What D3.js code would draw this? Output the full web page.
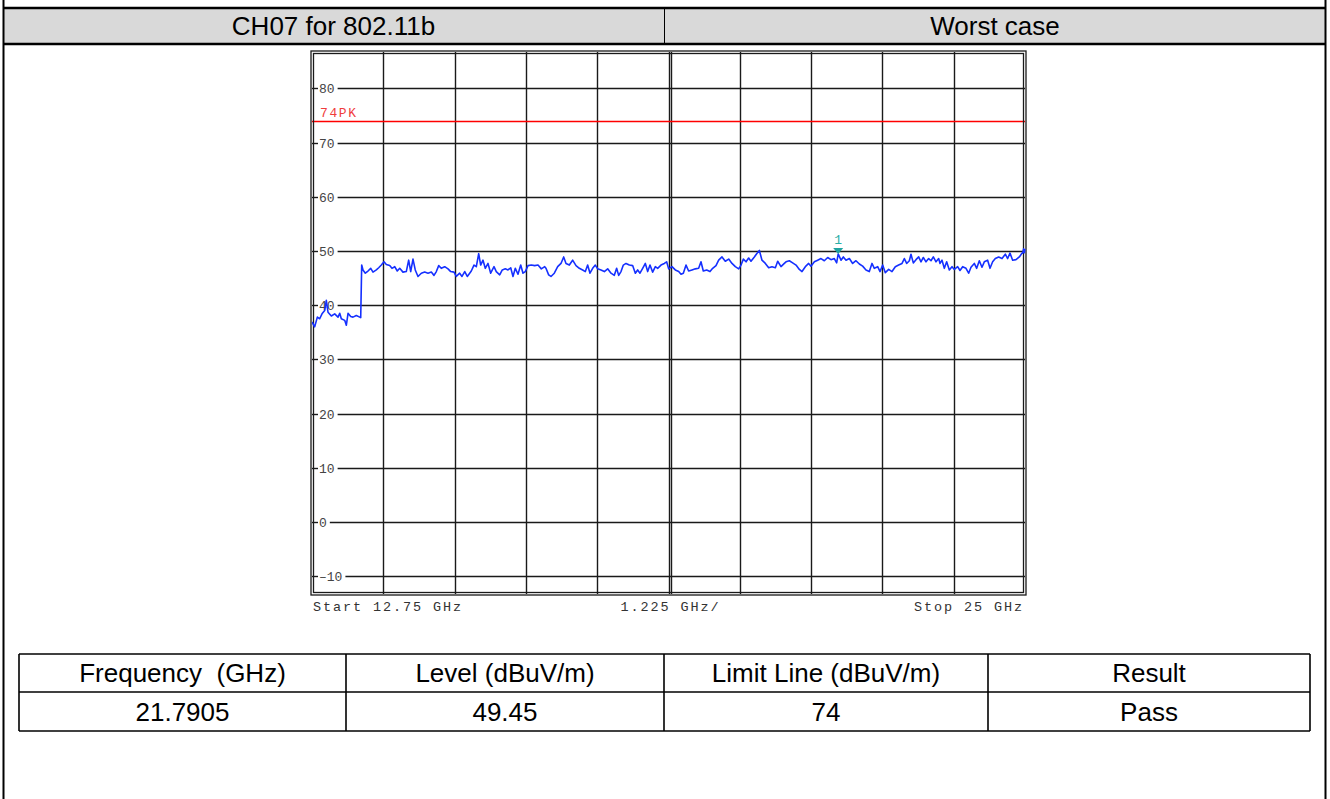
<!DOCTYPE html>
<html>
<head>
<meta charset="utf-8">
<script src="https://cdn.jsdelivr.net/npm/d3@7"></script>
<style>
  html, body { margin: 0; padding: 0; background: #fff; }
  svg { display: block; }
  .mono { font-family: "Liberation Mono", "Courier New", monospace; }
  .sans { font-family: "Liberation Sans", Arial, sans-serif; }
</style>
</head>
<body>
<svg id="chart" width="1330" height="799"></svg>
<script>
// Sweep: 12.75 GHz to 25 GHz, 1.225 GHz per division
const sweepStart = 12.75;
const sweepStop = 25;
const sweepDiv = 1.225;
const yTicks = [80, 70, 60, 50, 40, 30, 20, 10, 0, -10];
const limitLevel = 74;
const limitLabel = "74PK";
const markerFreq = 21.7905;
const markerLevel = 49.45;
const headerLeft = "CH07 for 802.11b";
const headerRight = "Worst case";
const tableHead = ["Frequency  (GHz)", "Level (dBuV/m)", "Limit Line (dBuV/m)", "Result"];
const tableRow = ["21.7905", "49.45", "74", "Pass"];

// Peak trace (GHz)
const freqGHz = [
  12.750, 12.796, 12.842, 12.882, 12.922, 12.968, 12.996, 13.025, 13.082, 13.140,
  13.197, 13.226, 13.254, 13.312, 13.340, 13.369, 13.415, 13.454, 13.511, 13.570,
  13.587, 13.604, 13.626, 13.666, 13.712, 13.759, 13.798, 13.855, 13.896, 13.941,
  13.987, 14.027, 14.085, 14.124, 14.171, 14.215, 14.257, 14.313, 14.370, 14.411,
  14.446, 14.485, 14.524, 14.571, 14.628, 14.686, 14.743, 14.800, 14.846, 14.886,
  14.927, 14.971, 15.030, 15.087, 15.133, 15.190, 15.229, 15.287, 15.327, 15.374,
  15.418, 15.487, 15.533, 15.573, 15.614, 15.648, 15.688, 15.727, 15.774, 15.820,
  15.877, 15.916, 15.975, 16.019, 16.071, 16.117, 16.164, 16.203, 16.243, 16.289,
  16.336, 16.375, 16.415, 16.461, 16.518, 16.576, 16.633, 16.690, 16.748,
  16.770, 16.816, 16.856, 16.913, 16.971, 17.028, 17.074, 17.114, 17.171, 17.228,
  17.286, 17.343, 17.400, 17.446, 17.486, 17.526, 17.572, 17.618, 17.658, 17.715,
  17.773, 17.830, 17.887, 17.944, 17.984, 18.019, 18.059, 18.099, 18.145, 18.202,
  18.259, 18.305, 18.345, 18.385, 18.431, 18.477, 18.517, 18.557, 18.603, 18.649,
  18.689, 18.746, 18.803, 18.843, 18.878, 18.935, 18.992, 19.050, 19.090, 19.130,
  19.176, 19.221, 19.279, 19.336, 19.393, 19.433, 19.473, 19.531, 19.588, 19.634,
  19.691, 19.737, 19.794, 19.851, 19.909, 19.966, 20.023, 20.081, 20.121, 20.161,
  20.207, 20.252, 20.292, 20.350, 20.390, 20.436, 20.481, 20.539, 20.596, 20.653,
  20.711, 20.751, 20.808, 20.865,
  20.894, 20.951, 21.008, 21.066, 21.123, 21.169, 21.226, 21.283, 21.323, 21.381,
  21.438, 21.495, 21.552, 21.610, 21.667, 21.724, 21.764, 21.7905, 21.839, 21.879,
  21.925, 21.982, 22.039, 22.096, 22.154, 22.211, 22.268, 22.325, 22.371, 22.411,
  22.469, 22.509, 22.555, 22.600, 22.658, 22.715, 22.772, 22.829, 22.887, 22.927,
  22.967, 23.013, 23.041, 23.081, 23.127, 23.173, 23.213, 23.253, 23.299, 23.345,
  23.385, 23.425, 23.471, 23.517, 23.540, 23.574, 23.614, 23.654, 23.700, 23.746,
  23.786, 23.843, 23.883, 23.929, 23.986, 24.032, 24.072, 24.129, 24.170, 24.215,
  24.261, 24.301, 24.358, 24.399, 24.444, 24.490, 24.547, 24.605, 24.662, 24.702,
  24.742, 24.788, 24.845, 24.903, 24.948, 24.960, 24.977, 24.989, 25.000
];
// Peak trace (dBuV/m)
const levelDb = [
  36.9, 36.0, 37.8, 37.5, 38.4, 39.0, 40.9, 38.7, 38.0, 38.4,
  37.8, 38.5, 37.5, 37.2, 36.3, 38.5, 37.9, 37.8, 38.1, 37.8,
  37.7, 47.4, 46.5, 45.9, 46.3, 46.8, 46.1, 46.5, 46.9, 47.4,
  48.0, 47.5, 47.3, 46.8, 47.1, 46.3, 46.8, 46.1, 46.2, 48.3,
  46.2, 48.5, 46.5, 45.3, 45.9, 46.1, 45.9, 46.1, 45.5, 46.2,
  47.3, 46.8, 47.1, 46.7, 46.2, 46.1, 45.3, 45.9, 45.3, 46.2,
  45.3, 46.3, 47.4, 47.1, 49.5, 47.4, 48.3, 46.8, 47.7, 45.9,
  47.1, 46.2, 45.6, 46.5, 46.7, 46.5, 46.9, 45.3, 46.8, 45.7,
  47.4, 45.9, 46.2, 47.3, 47.4, 47.3, 47.4, 46.7, 47.1,
  46.8, 45.6, 45.3, 45.9, 47.1, 47.7, 48.9, 47.7, 47.4, 48.3,
  47.3, 46.8, 46.5, 46.2, 47.4, 45.9, 46.8, 47.4, 46.7, 46.5,
  46.2, 46.7, 45.9, 45.5, 46.8, 45.5, 46.2, 47.4, 47.7, 47.4,
  47.3, 45.9, 46.5, 45.9, 46.8, 47.7, 46.2, 47.4, 46.1, 47.1,
  46.8, 47.4, 47.7, 48.0, 46.7, 47.1, 46.5, 46.2, 45.7, 45.9,
  47.4, 46.3, 46.5, 46.7, 46.8, 48.0, 46.3, 46.5, 46.2, 46.8,
  47.3, 48.3, 48.9, 48.1, 48.5, 47.7, 47.1, 46.7, 47.4, 48.5,
  48.0, 48.7, 48.1, 48.9, 49.5, 50.1, 48.3, 47.7, 46.9, 47.1,
  46.9, 48.1, 47.1, 47.7,
  48.0, 48.2, 47.8, 47.4, 46.6, 46.2, 47.1, 47.7, 47.2, 48.0,
  48.3, 48.6, 48.2, 48.8, 48.4, 48.6, 47.8, 49.45, 48.3, 48.9,
  48.3, 48.6, 47.7, 48.2, 47.6, 47.2, 46.5, 46.2, 47.7, 46.8,
  47.1, 46.2, 47.4, 46.0, 46.6, 46.2, 47.1, 47.4, 47.7, 48.6,
  47.7, 48.2, 49.4, 47.8, 48.4, 48.9, 48.0, 48.8, 48.0, 48.6,
  48.2, 48.9, 48.0, 48.6, 47.7, 48.3, 46.8, 48.0, 46.5, 47.1,
  46.6, 47.1, 46.4, 47.1, 46.8, 45.9, 47.0, 47.7, 46.8, 48.2,
  47.0, 48.0, 48.3, 46.8, 48.0, 48.6, 48.9, 48.6, 49.4, 48.6,
  49.6, 48.3, 48.4, 48.9, 49.6, 49.6, 50.4, 49.7, 50.4
];

const svg = d3.select("#chart");
svg.append("rect").attr("width", 1330).attr("height", 799).attr("fill", "#fff");

// ---- page frame and heading band ----
const frameL = 3, frameR = 1326;
const bandTop = 8, bandBot = 44, bandSplit = 664;
const titleSize = 26;
svg.append("rect").attr("x", frameL).attr("y", bandTop).attr("width", frameR - frameL)
  .attr("height", bandBot - bandTop).attr("fill", "#d9d9d9");
svg.append("line").attr("x1", frameL).attr("x2", frameR).attr("y1", bandTop).attr("y2", bandTop)
  .attr("stroke", "#000").attr("stroke-width", 2.5);
svg.append("line").attr("x1", frameL).attr("x2", frameR).attr("y1", bandBot).attr("y2", bandBot)
  .attr("stroke", "#000").attr("stroke-width", 2.5);
svg.append("line").attr("x1", bandSplit + 0.5).attr("x2", bandSplit + 0.5).attr("y1", bandTop).attr("y2", bandBot)
  .attr("stroke", "#000").attr("stroke-width", 1);
[frameL + 0.5, frameR - 0.5].forEach(xx => {
  svg.append("line").attr("x1", xx).attr("x2", xx).attr("y1", 0).attr("y2", 799)
    .attr("stroke", "#000").attr("stroke-width", 2);
});
svg.append("text").attr("class", "sans").attr("x", (frameL + bandSplit) / 2).attr("y", bandTop + 27)
  .attr("text-anchor", "middle").attr("font-size", titleSize).attr("fill", "#000").text(headerLeft);
svg.append("text").attr("class", "sans").attr("x", (bandSplit + frameR) / 2).attr("y", bandTop + 27)
  .attr("text-anchor", "middle").attr("font-size", titleSize).attr("fill", "#000").text(headerRight);

// ---- spectrum plot ----
const plotL = 312, plotR = 1025, plotT = 52, plotB = 594;
const x = d3.scaleLinear().domain([sweepStart, sweepStop]).range([plotL, plotR]);
const y = d3.scaleLinear().domain([-10, 80]).range([576.3, 88.3]);

const plot = svg.append("g");
plot.append("rect").attr("x", plotL).attr("y", plotT).attr("width", plotR - plotL)
  .attr("height", plotB - plotT).attr("fill", "#fff");

// vertical divisions
const divs = d3.range(1, 10).map(i => sweepStart + i * sweepDiv);
plot.selectAll("line.vgrid").data(divs).join("line").attr("class", "vgrid")
  .attr("x1", d => Math.round(x(d)) + 0.5).attr("x2", d => Math.round(x(d)) + 0.5)
  .attr("y1", plotT).attr("y2", plotB).attr("stroke", "#1a1a1a").attr("stroke-width", 1.4);
// centre division drawn as a double line
const cx = Math.round(x(sweepStart + 5 * sweepDiv));
plot.append("line").attr("x1", cx + 2.5).attr("x2", cx + 2.5).attr("y1", plotT).attr("y2", plotB)
  .attr("stroke", "#1a1a1a").attr("stroke-width", 1.4);

// level labels with grid lines that start after the text
const tickG = plot.selectAll("g.ytick").data(yTicks).join("g").attr("class", "ytick")
  .attr("transform", d => `translate(0,${Math.round(y(d)) + 0.5})`);
tickG.append("line").attr("x1", plotL).attr("x2", plotL + 6).attr("stroke", "#1a1a1a").attr("stroke-width", 1.4);
tickG.append("text").attr("class", "mono").attr("x", plotL + 7).attr("y", 4.5)
  .attr("font-size", 13).attr("fill", "#444")
  .text(d => d < 0 ? "\u2013" + Math.abs(d) : String(d));
tickG.each(function () {
  const g = d3.select(this);
  const t = g.select("text").node();
  const end = plotL + 7 + t.getComputedTextLength() + 3;
  g.append("line").attr("x1", end).attr("x2", plotR).attr("stroke", "#1a1a1a").attr("stroke-width", 1.4);
});

// limit line
plot.append("line").attr("x1", plotL).attr("x2", plotR)
  .attr("y1", Math.round(y(limitLevel)) + 0.5).attr("y2", Math.round(y(limitLevel)) + 0.5)
  .attr("stroke", "#ff0000").attr("stroke-width", 1.3);
plot.append("text").attr("class", "mono").attr("x", plotL + 8).attr("y", y(limitLevel) - 4)
  .attr("font-size", 13).attr("letter-spacing", 1.6).attr("fill", "#f03c3c").text(limitLabel);

// plot border (double line)
plot.append("rect").attr("x", plotL - 1).attr("y", plotT - 1).attr("width", plotR - plotL + 2)
  .attr("height", plotB - plotT + 2).attr("fill", "none").attr("stroke", "#1a1a1a").attr("stroke-width", 1.3);
plot.append("rect").attr("x", plotL + 1.5).attr("y", plotT + 1.5).attr("width", plotR - plotL - 3)
  .attr("height", plotB - plotT - 3).attr("fill", "none").attr("stroke", "#1a1a1a").attr("stroke-width", 1.3);

// trace
const pts = freqGHz.map((f, i) => [f, levelDb[i]]);
svg.append("clipPath").attr("id", "plotClip").append("rect")
  .attr("x", plotL).attr("y", plotT).attr("width", plotR - plotL + 1).attr("height", plotB - plotT);
plot.append("path").datum(pts).attr("clip-path", "url(#plotClip)")
  .attr("fill", "none").attr("stroke", "#1530ff").attr("stroke-width", 1.6)
  .attr("stroke-linejoin", "round")
  .attr("d", d3.line().x(d => x(d[0])).y(d => y(d[1])));

// marker 1
const mx = x(markerFreq), my = y(markerLevel);
plot.append("path").attr("fill", "#1fa3a0")
  .attr("d", `M${mx - 5},${my - 6}L${mx + 5},${my - 6}L${mx},${my}Z`);
plot.append("text").attr("class", "mono").attr("x", mx).attr("y", my - 10)
  .attr("text-anchor", "middle").attr("font-size", 13).attr("fill", "#2aaea8").text("1");

// sweep annotations
const ann = [
  { t: `Start ${sweepStart} GHz`, x: plotL + 1, a: "start" },
  { t: `${sweepDiv} GHz/`, x: (plotL + plotR) / 2 + 2, a: "middle" },
  { t: `Stop ${sweepStop} GHz`, x: plotR - 1, a: "end" }
];
svg.selectAll("text.ann").data(ann).join("text").attr("class", "ann mono")
  .attr("x", d => d.x).attr("y", plotB + 17).attr("text-anchor", d => d.a)
  .attr("font-size", 13.5).attr("letter-spacing", 1.9).attr("fill", "#333").text(d => d.t);

// ---- result table ----
const colX = [19, 346, 664, 988, 1310];
const rowY = [654, 692, 731];
const tbl = svg.append("g");
[tableHead, tableRow].forEach((row, r) => {
  row.forEach((txt, c) => {
    tbl.append("text").attr("class", "sans").attr("x", (colX[c] + colX[c + 1]) / 2)
      .attr("y", (rowY[r] + rowY[r + 1]) / 2 + 9).attr("text-anchor", "middle")
      .attr("font-size", titleSize).attr("fill", "#000").style("white-space", "pre").text(txt);
  });
});
rowY.forEach(yy => tbl.append("line").attr("x1", colX[0]).attr("x2", colX[4]).attr("y1", yy).attr("y2", yy)
  .attr("stroke", "#000").attr("stroke-width", 1.6));
colX.forEach(xx => tbl.append("line").attr("x1", xx).attr("x2", xx).attr("y1", rowY[0]).attr("y2", rowY[2])
  .attr("stroke", "#000").attr("stroke-width", 1.6));
</script>
</body>
</html>
